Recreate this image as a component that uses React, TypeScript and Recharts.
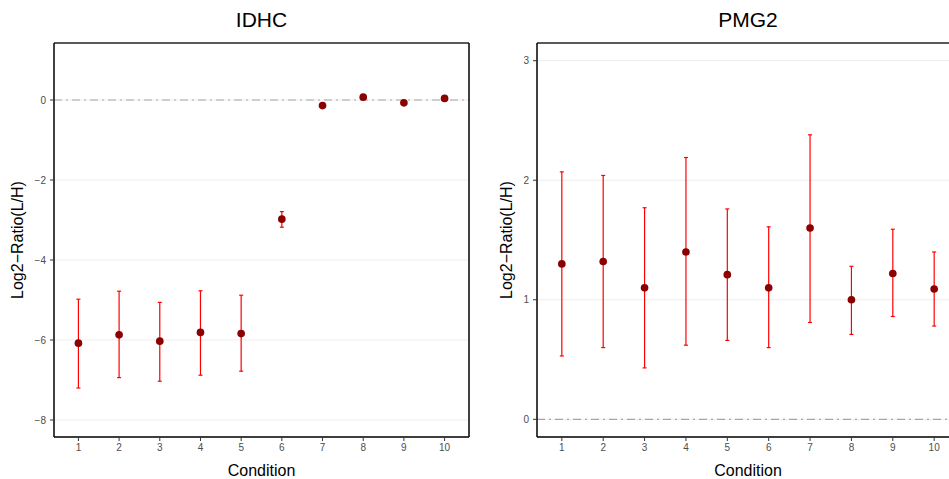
import React from "react";
import {
  ScatterChart,
  Scatter,
  XAxis,
  YAxis,
  ZAxis,
  CartesianGrid,
  ErrorBar,
  ReferenceLine,
} from "recharts";

const conditions = [1, 2, 3, 4, 5, 6, 7, 8, 9, 10];
const xDomain: [number, number] = [0.4, 10.6];

// IDHC: log2 ratio with lower / upper bounds
const idhcRatio = [-6.08, -5.87, -6.03, -5.81, -5.84, -2.98, -0.14, 0.07, -0.07, 0.04];
const idhcLower = [-7.2, -6.94, -7.03, -6.88, -6.78, -3.18, -0.14, 0.07, -0.07, 0.04];
const idhcUpper = [-4.98, -4.78, -5.06, -4.77, -4.88, -2.79, -0.14, 0.07, -0.07, 0.04];
const idhcTicks = [-8, -6, -4, -2, 0];

// PMG2
const pmg2Ratio = [1.3, 1.32, 1.1, 1.4, 1.21, 1.1, 1.6, 1.0, 1.22, 1.09];
const pmg2Lower = [0.53, 0.6, 0.43, 0.62, 0.66, 0.6, 0.81, 0.71, 0.86, 0.78];
const pmg2Upper = [2.07, 2.04, 1.77, 2.19, 1.76, 1.61, 2.38, 1.28, 1.59, 1.4];
const pmg2Ticks = [0, 1, 2, 3];

const FONT = "'Liberation Sans', Arial, Helvetica, sans-serif";
const minus = (v: number) => String(v).replace("-", "\u2212");

interface PanelProps {
  title: string;
  ratio: number[];
  lower: number[];
  upper: number[];
  yTicks: number[];
  yDomain: [number, number];
  left: number;
  marginLeft: number;
  marginRight: number;
  yTitleX: number;
}

function Panel({ title, ratio, lower, upper, yTicks, yDomain, left, marginLeft, marginRight, yTitleX }: PanelProps) {
  const data = conditions.map((c, i) => ({
    condition: c,
    ratio: ratio[i],
    err: [ratio[i] - lower[i], upper[i] - ratio[i]],
  }));
  const W = 480;
  const plotLeft = marginLeft + 40;
  const plotRight = W - marginRight;
  const cx = (plotLeft + plotRight) / 2;

  return (
    <div style={{ position: "absolute", left, top: 0, width: W, height: 479 }}>
      <ScatterChart width={W} height={479} margin={{ top: 43, right: marginRight, left: marginLeft, bottom: 12 }}>
        <CartesianGrid vertical={false} stroke="#ededed" />
        <XAxis
          dataKey="condition"
          type="number"
          domain={xDomain}
          ticks={conditions}
          allowDataOverflow
          height={30}
          tickSize={4}
          tickMargin={3}
          tick={{ fill: "#4d4d4d", fontSize: 10 }}
          tickLine={{ stroke: "#333" }}
          axisLine={{ stroke: "#000", strokeWidth: 1.5 }}
        />
        <YAxis
          dataKey="ratio"
          type="number"
          domain={yDomain}
          ticks={yTicks}
          allowDataOverflow
          width={40}
          tickSize={4}
          tickMargin={4}
          tickFormatter={minus}
          tick={{ fill: "#4d4d4d", fontSize: 10 }}
          tickLine={{ stroke: "#333" }}
          axisLine={{ stroke: "#000", strokeWidth: 1.5 }}
        />
        <ZAxis range={[46, 46]} />
        <ReferenceLine y={0} stroke="#a6a6a6" strokeWidth={1.2} strokeDasharray="8 4 2 4" />
        {/* panel frame: top edge grey, right edge black */}
        <ReferenceLine y={yDomain[1]} stroke="#5a5a5a" strokeWidth={2} />
        <ReferenceLine x={xDomain[1]} stroke="#000" strokeWidth={1.5} />
        <Scatter data={data} dataKey="ratio" fill="#8b0000" shape="circle" isAnimationActive={false}>
          <ErrorBar dataKey="err" direction="y" width={2} stroke="#ff0000" strokeWidth={1.2} isAnimationActive={false} />
        </Scatter>
      </ScatterChart>
      <div
        style={{
          position: "absolute",
          left: cx,
          top: 20,
          transform: "translate(-50%, -50%)",
          fontSize: 21,
          color: "#000",
          whiteSpace: "nowrap",
        }}
      >
        {title}
      </div>
      <div
        style={{
          position: "absolute",
          left: cx,
          top: 471,
          transform: "translate(-50%, -50%)",
          fontSize: 16,
          color: "#000",
          whiteSpace: "nowrap",
        }}
      >
        Condition
      </div>
      <div
        style={{
          position: "absolute",
          left: yTitleX,
          top: 240,
          transform: "translate(-50%, -50%) rotate(-90deg)",
          fontSize: 16,
          color: "#000",
          whiteSpace: "nowrap",
        }}
      >
        Log2{"\u2212"}Ratio(L/H)
      </div>
    </div>
  );
}

export default function App() {
  return (
    <div
      style={{
        position: "absolute",
        left: 0,
        top: 0,
        width: 949,
        height: 479,
        overflow: "hidden",
        background: "#fff",
        fontFamily: FONT,
      }}
    >
      <Panel
        title="IDHC"
        ratio={idhcRatio}
        lower={idhcLower}
        upper={idhcUpper}
        yTicks={idhcTicks}
        yDomain={[-8.425, 1.425]}
        left={0}
        marginLeft={14}
        marginRight={11}
        yTitleX={18}
      />
      <Panel
        title="PMG2"
        ratio={pmg2Ratio}
        lower={pmg2Lower}
        upper={pmg2Upper}
        yTicks={pmg2Ticks}
        yDomain={[-0.148, 3.148]}
        left={480}
        marginLeft={17}
        marginRight={1}
        yTitleX={27}
      />
    </div>
  );
}
